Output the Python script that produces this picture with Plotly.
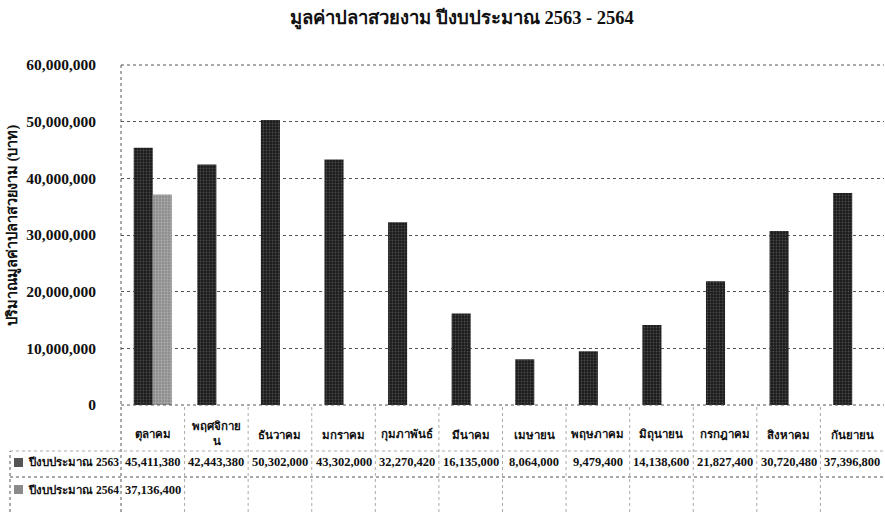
import plotly.graph_objects as go

months = ["ตุลาคม", "พฤศจิกายน", "ธันวาคม", "มกราคม", "กุมภาพันธ์", "มีนาคม",
          "เมษายน", "พฤษภาคม", "มิถุนายน", "กรกฎาคม", "สิงหาคม", "กันยายน"]
month_labels = ["ตุลาคม", "พฤศจิกาย<br>น", "ธันวาคม", "มกราคม", "กุมภาพันธ์", "มีนาคม",
                "เมษายน", "พฤษภาคม", "มิถุนายน", "กรกฎาคม", "สิงหาคม", "กันยายน"]
series_names = ["ปีงบประมาณ 2563", "ปีงบประมาณ 2564"]
values_2563 = [45411380, 42443380, 50302000, 43302000, 32270420, 16135000,
               8064000, 9479400, 14138600, 21827400, 30720480, 37396800]
values_2564 = [37136400, None, None, None, None, None, None, None, None, None, None, None]
y_ticks = [0, 10000000, 20000000, 30000000, 40000000, 50000000, 60000000]

title_text = "มูลค่าปลาสวยงาม ปีงบประมาณ 2563 - 2564"
y_title = "ปริมาณมูลค่าปลาสวยงาม (บาท)"

W, H = 885, 512
L, R, T, B = 121, 1, 65, 107
PH = H - T - B
PW = W - L - R

def py(p):
    return (H - B - p) / PH

def px(p):
    return (p - L) / PW

FONT = "Liberation Serif, Noto Sans, DejaVu Serif, serif"
dark = "#1c1c1c"
gray = "#8e8e8e"

fig = go.Figure()
fig.add_trace(go.Bar(x=months, y=values_2563, name=series_names[0],
                     marker=dict(color=dark, line=dict(width=0),
                                 pattern=dict(shape=".", fgcolor="#777777", size=3, solidity=0.3))))
fig.add_trace(go.Bar(x=months, y=values_2564, name=series_names[1],
                     marker=dict(color=gray, line=dict(width=0),
                                 pattern=dict(shape=".", fgcolor="#cfcfcf", size=3, solidity=0.3))))

shapes = []
dot = dict(color="#555555", width=1, dash="dot")
shapes.append(dict(type="line", xref="paper", yref="paper", x0=0, x1=0, y0=py(512), y1=1, line=dot))
shapes.append(dict(type="line", xref="paper", yref="paper", x0=0, x1=1, y0=1, y1=1, line=dot))
shapes.append(dict(type="line", xref="paper", yref="paper", x0=0, x1=1, y0=0, y1=0, line=dot))
shapes.append(dict(type="line", xref="paper", yref="paper", x0=px(10), x1=1, y0=py(451), y1=py(451),
                   line=dict(color="#aaaaaa", width=1, dash="dot")))
shapes.append(dict(type="line", xref="paper", yref="paper", x0=px(10), x1=1, y0=py(477), y1=py(477), line=dot))
shapes.append(dict(type="line", xref="paper", yref="paper", x0=px(10), x1=px(10), y0=py(512), y1=py(451), line=dot))
for i in range(1, len(months)):
    xv = i / len(months)
    shapes.append(dict(type="line", xref="paper", yref="paper", x0=xv, x1=xv, y0=py(512), y1=0,
                       line=dict(color="#aaaaaa", width=1, dash="dot")))
shapes.append(dict(type="rect", xref="paper", yref="paper", x0=px(14), x1=px(23), y0=py(467), y1=py(458),
                   fillcolor="#555555", line=dict(width=0)))
shapes.append(dict(type="rect", xref="paper", yref="paper", x0=px(14), x1=px(23), y0=py(494), y1=py(485),
                   fillcolor="#8a8a8a", line=dict(width=0)))

annotations = []
tfont = dict(family=FONT, size=12.5, color="#111111", weight="bold")
for i, m in enumerate(months):
    ylab = 433 if "<br>" in month_labels[i] else 435
    annotations.append(dict(x=m, y=py(ylab), xref="x", yref="paper", xanchor="center", yanchor="middle",
                            text=month_labels[i], showarrow=False,
                            font=dict(family=FONT, size=11.5, color="#111111", weight="bold")))
    annotations.append(dict(x=m, y=py(462), xref="x", yref="paper", xanchor="center", yanchor="middle",
                            text="{:,}".format(values_2563[i]), showarrow=False, font=tfont))
    if values_2564[i] is not None:
        annotations.append(dict(x=m, y=py(490), xref="x", yref="paper", xanchor="center", yanchor="middle",
                                text="{:,}".format(values_2564[i]), showarrow=False, font=tfont))
annotations.append(dict(x=px(26), y=py(462), xref="paper", yref="paper", xanchor="left", yanchor="middle",
                        text=series_names[0], showarrow=False,
                        font=dict(family=FONT, size=11.5, color="#111111", weight="bold")))
annotations.append(dict(x=px(26), y=py(490), xref="paper", yref="paper", xanchor="left", yanchor="middle",
                        text=series_names[1], showarrow=False,
                        font=dict(family=FONT, size=11.5, color="#111111", weight="bold")))
annotations.append(dict(x=px(12), y=py(226), xref="paper", yref="paper", xanchor="center", yanchor="middle",
                        text=y_title, textangle=-90, showarrow=False,
                        font=dict(family=FONT, size=14.5, color="#111111", weight="bold")))

fig.update_layout(
    width=W, height=H,
    margin=dict(l=L, r=R, t=T, b=B),
    paper_bgcolor="white", plot_bgcolor="white",
    barmode="group", bargap=0.4, bargroupgap=0,
    showlegend=False,
    title=dict(text=title_text, x=462 / W, xanchor="center", y=1 - 18 / H, yanchor="middle",
               font=dict(family=FONT, size=18.5, color="#111111", weight="bold")),
    xaxis=dict(showticklabels=False, showgrid=False, zeroline=False, showline=False, ticks=""),
    yaxis=dict(range=[0, 60000000], tickvals=y_ticks, tickformat=",d", showgrid=True,
               gridcolor="#555555", griddash="dot", gridwidth=1, zeroline=False, showline=False,
               ticks="", ticklabelstandoff=24,
               tickfont=dict(family=FONT, size=15.5, color="#111111", weight="bold")),
    shapes=shapes, annotations=annotations,
)
fig.write_html("out.html", config={"displayModeBar": False},
               post_script="document.body.style.margin='0';")
